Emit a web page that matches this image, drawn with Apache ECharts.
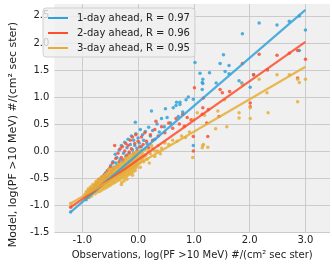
<!DOCTYPE html>
<html><head><meta charset="utf-8">
<script src="https://cdn.jsdelivr.net/npm/echarts@6/dist/echarts.min.js"></script>
<style>html,body{margin:0;padding:0;background:#fff}#c{width:332px;height:265px}</style>
</head><body><div id="c"></div><script>
const legendNames = ['1-day ahead, R = 0.97', '2-day ahead, R = 0.96', '3-day ahead, R = 0.95'];
const xTicks = [-1, 0, 1, 2, 3];
const fitX = [-1.21, 3.0];
const fit1 = [-1.13, 2.61];
const fit2 = [-1.04, 2.02];
const fit3 = [-0.97, 1.56];

const day1 = [
[-1.21,-1.13],[-0.93,-0.9],[-0.9,-0.8],[-0.88,-0.86],[-0.85,-0.74],[-0.83,-0.79],[-0.8,-0.69],[-0.78,-0.75],[-0.76,-0.63],[-0.74,-0.7],[-0.71,-0.58],[-0.69,-0.64],[-0.67,-0.52],[-0.65,-0.6],[-0.62,-0.46],[-0.6,-0.53],[-0.58,-0.4],[-0.56,-0.48],[-0.53,-0.34],[-0.51,-0.43],[-0.49,-0.27],[-0.47,-0.37],[-0.45,-0.2],[-0.43,-0.3],[-0.41,-0.06],[-0.4,-0.22],[-0.38,-0.12],[-0.36,-0.26],[-0.34,0.02],[-0.32,-0.15],[-0.3,0.1],[-0.28,-0.2],[-0.26,-0.04],[-0.24,0.16],[-0.22,-0.1],[-0.2,0.06],[-0.18,0.22],[-0.16,-0.04],[-0.14,0.12],[-0.12,0.28],[-0.1,0.02],[-0.08,0.2],[-0.06,0.1],[-0.04,0.32],[-0.02,0.05],[0.0,0.24],[0.02,0.15],[0.04,0.4],[0.06,0.08],[0.08,0.3],[0.1,0.2],[0.13,0.36],[0.16,0.14],[0.19,0.44],[0.22,0.28],[0.26,0.38],[0.3,0.22],[0.34,0.5],[0.38,0.35],[0.42,0.6],[0.47,0.45],[0.52,0.62],[0.58,0.52],[0.63,0.8],[0.69,0.9],[0.72,0.64],[0.75,0.86],[0.8,0.72],[0.86,0.95],[0.9,1.0],[0.99,0.96],[0.99,0.1],[-0.05,0.53],[0.24,0.74],[0.49,0.78],
[0.75,0.9],[0.68,0.84],[1.02,1.64],[1.11,1.44],[1.16,1.33],[1.16,1.25],[1.15,1.27],[1.15,1.14],[1.28,1.45],[1.4,1.26],[1.47,1.62],[1.53,1.78],[1.56,1.47],[1.63,1.58],[1.63,1.43],[1.81,1.3],[1.86,1.26],[1.87,2.17],[2.01,1.18],[2.07,1.41],[2.17,2.37],[2.49,2.33],[2.71,2.4],[2.89,2.5],[3.0,2.24],[2.89,1.86]
];
const day2 = [
[-1.21,-1.04],[-0.94,-0.86],[-0.91,-0.82],[-0.89,-0.76],[-0.86,-0.8],[-0.84,-0.7],[-0.81,-0.75],[-0.79,-0.64],[-0.77,-0.71],[-0.74,-0.58],[-0.72,-0.66],[-0.7,-0.52],[-0.67,-0.61],[-0.65,-0.48],[-0.63,-0.56],[-0.6,-0.43],[-0.58,-0.5],[-0.55,-0.36],[-0.53,-0.45],[-0.5,-0.3],[-0.48,-0.4],[-0.46,-0.22],[-0.44,-0.33],[-0.42,0.1],[-0.4,-0.14],[-0.38,-0.28],[-0.36,-0.04],[-0.34,-0.2],[-0.32,0.04],[-0.3,-0.12],[-0.28,0.08],[-0.26,-0.16],[-0.24,0.0],[-0.22,0.14],[-0.2,-0.08],[-0.18,0.1],[-0.16,-0.02],[-0.14,0.2],[-0.12,0.04],[-0.1,0.26],[-0.08,-0.04],[-0.06,0.14],[-0.04,0.3],[-0.02,0.0],[0.0,0.18],[0.03,0.08],[0.06,0.26],[0.09,0.12],[0.12,0.34],[0.15,0.18],[0.19,0.06],[0.22,0.3],[0.26,0.2],[0.3,0.4],[0.32,0.55],[0.36,0.28],[0.42,0.45],[0.48,0.34],[0.55,0.52],[0.62,0.42],[0.68,0.6],[0.74,0.5],[0.8,0.68],[0.83,0.46],[0.88,0.62],[0.95,0.58],[0.99,0.0],[0.99,0.27],[1.01,1.17],
[1.17,0.98],[1.15,0.68],[1.23,0.52],[1.25,0.27],[1.16,0.8],[1.26,0.77],[1.45,0.64],[1.47,1.14],[1.51,1.08],[1.64,1.1],[1.87,1.62],[2.01,0.89],[2.01,0.82],[2.07,1.41],[2.17,1.79],[2.32,1.5],[2.49,1.77],[2.71,1.81],[2.86,1.86],[3.0,1.7],[2.86,1.35]
];
const day3 = [
[-1.21,-0.97],[-0.95,-0.86],[-0.95,-0.8],[-0.93,-0.88],[-0.93,-0.76],[-0.91,-0.83],[-0.91,-0.74],[-0.89,-0.86],[-0.89,-0.77],[-0.89,-0.7],[-0.87,-0.82],[-0.87,-0.72],[-0.85,-0.8],[-0.85,-0.74],[-0.85,-0.66],[-0.83,-0.83],[-0.83,-0.7],[-0.81,-0.77],[-0.81,-0.68],[-0.81,-0.62],[-0.79,-0.74],[-0.79,-0.65],[-0.77,-0.79],[-0.77,-0.7],[-0.77,-0.6],[-0.75,-0.73],[-0.75,-0.64],[-0.75,-0.56],[-0.73,-0.76],[-0.73,-0.67],[-0.73,-0.58],[-0.71,-0.7],[-0.71,-0.61],[-0.71,-0.53],[-0.69,-0.75],[-0.69,-0.65],[-0.69,-0.56],[-0.67,-0.68],[-0.67,-0.6],[-0.67,-0.5],[-0.65,-0.72],[-0.65,-0.62],[-0.65,-0.53],[-0.63,-0.66],[-0.63,-0.57],[-0.63,-0.47],[-0.61,-0.7],[-0.61,-0.6],[-0.61,-0.5],[-0.59,-0.64],[-0.59,-0.54],[-0.59,-0.44],[-0.57,-0.68],[-0.57,-0.58],[-0.57,-0.48],[-0.55,-0.62],[-0.55,-0.53],[-0.55,-0.41],[-0.53,-0.65],[-0.53,-0.55],[-0.53,-0.45],[-0.53,-0.34],[-0.51,-0.6],[-0.51,-0.5],[-0.51,-0.4],[-0.49,-0.63],[-0.49,-0.53],[-0.49,-0.43],[-0.49,-0.34],[-0.47,-0.57],[-0.47,-0.47],[-0.47,-0.38],[-0.45,-0.6],[-0.45,-0.5],[-0.45,-0.42],[-0.45,-0.32],[-0.43,-0.55],[-0.43,-0.45],[-0.43,-0.36],[-0.41,-0.58],[-0.41,-0.48],[-0.41,-0.39],[-0.41,-0.3],[-0.39,-0.52],[-0.39,-0.43],[-0.39,-0.33],[-0.37,-0.55],[-0.37,-0.46],[-0.37,-0.37],[-0.37,-0.27],[-0.35,-0.5],[-0.35,-0.4],[-0.35,-0.31],[-0.33,-0.53],[-0.33,-0.43],[-0.33,-0.34],[-0.33,-0.25],[-0.31,-0.47],[-0.31,-0.38],[-0.31,-0.28],[-0.29,-0.58],[-0.29,-0.5],[-0.29,-0.41],[-0.29,-0.32],[-0.29,-0.22],[-0.27,-0.45],[-0.27,-0.35],[-0.27,-0.26],[-0.25,-0.49],[-0.25,-0.4],[-0.25,-0.3],[-0.25,-0.2],[-0.23,-0.44],[-0.23,-0.34],[-0.23,-0.24],[-0.23,-0.14],[-0.21,-0.47],[-0.21,-0.38],[-0.21,-0.28],[-0.21,-0.18],[-0.19,-0.41],[-0.19,-0.32],[-0.19,-0.22],[-0.19,-0.12],[-0.17,-0.44],[-0.17,-0.35],[-0.17,-0.25],[-0.17,-0.16],[-0.15,-0.39],[-0.15,-0.29],[-0.15,-0.19],[-0.15,-0.09],[-0.13,-0.42],[-0.13,-0.32],[-0.13,-0.23],[-0.13,-0.13],[-0.11,-0.36],[-0.11,-0.26],[-0.11,-0.17],[-0.11,-0.07],[-0.09,-0.39],[-0.09,-0.3],[-0.09,-0.2],[-0.09,-0.1],[-0.07,-0.33],[-0.07,-0.24],[-0.07,-0.14],[-0.07,-0.04],[-0.05,-0.36],[-0.05,-0.27],[-0.05,-0.18],[-0.05,-0.08],[-0.03,-0.3],[-0.03,-0.21],[-0.03,-0.11],[-0.03,-0.02],[-0.01,-0.25],[-0.01,-0.15],[-0.01,-0.06],[0.02,-0.22],[0.02,-0.12],[0.02,-0.02],[0.05,-0.18],[0.05,-0.08],[0.05,0.02],[0.08,-0.14],[0.08,-0.04],[0.11,-0.1],[0.11,0.02],[0.14,-0.08],[0.14,0.04],
[-0.3,-0.62],[-0.25,-0.55],[-0.2,-0.52],[-0.1,-0.45],[0.04,-0.3],[0.1,-0.2],[0.16,-0.15],[0.2,-0.22],[0.24,0.1],[0.3,-0.1],[0.35,0.0],[0.4,-0.05],
[0.18,0.0],[0.22,-0.05],[0.26,0.05],[0.3,0.0],[0.36,0.1],[0.42,0.05],[0.48,0.15],[0.55,0.12],[0.62,0.2],[0.7,0.18],[0.78,0.28],[0.85,0.25],[0.92,0.35],
[0.98,-0.12],[1.16,0.1],[1.25,0.07],[1.15,0.06],[1.17,0.12],[0.99,0.58],[1.06,0.71],[1.19,0.66],[1.39,0.41],[1.43,0.74],[1.55,0.95],[1.59,0.45],[1.81,0.71],[1.81,0.61],[2.01,0.8],[2.01,0.6],[1.87,1.23],[2.17,1.33],[2.31,1.08],[2.33,0.71],[2.49,1.41],[2.71,1.41],[2.86,1.33],[2.86,0.91],[2.89,1.27],[3.0,1.33]
];

const colors = ['#30a2da', '#fc4f30', '#e5ae38'];
const scatters = [day1, day2, day3];
const fits = [fit1, fit2, fit3];
const font = 'DejaVu Sans';

const series = [];
scatters.forEach((d, i) => {
  const s = {
    name: 'pts' + i, type: 'scatter', data: d, symbolSize: 3.5, z: 2 + i,
    itemStyle: { color: colors[i], opacity: 0.85 }, silent: true
  };
  if (i === 0) {
    s.markLine = {
      silent: true, symbol: ['none', 'none'], z: 1,
      label: { show: false },
      lineStyle: { color: '#cbcbcb', width: 1, type: 'solid', opacity: 1 },
      emphasis: { disabled: true },
      data: xTicks.map(v => ({ xAxis: v }))
    };
  }
  series.push(s);
});
fits.forEach((f, i) => {
  series.push({
    name: legendNames[i], type: 'line', symbol: 'none', showSymbol: false, z: 10 + i,
    data: fitX.map((x, k) => [x, f[k]]),
    lineStyle: { color: colors[i], width: 2.2, opacity: 0.85 },
    itemStyle: { color: colors[i] }
  });
});

const chart = echarts.init(document.getElementById('c'), null, { renderer: 'canvas' });
chart.setOption({
  animation: false,
  backgroundColor: '#ffffff',
  grid: { left: 40, right: 2, top: 4, bottom: 32, show: true, backgroundColor: '#f0f0f0', borderWidth: 0 },
  legend: {
    data: legendNames.map(n => ({ name: n, icon: 'rect' })), orient: 'vertical', left: 43, top: 8,
    padding: [5, 5, 4, 5], itemWidth: 20, itemHeight: 2, itemGap: 5,
    backgroundColor: 'rgba(240,240,240,0.8)', borderColor: '#d0d0d0', borderWidth: 1, borderRadius: 3,
    textStyle: { fontSize: 10, lineHeight: 10, color: '#222', fontFamily: font, padding: [0, 0, 0, 4] }
  },
  xAxis: {
    type: 'value', min: -1.5, max: 3.44, interval: 0.5,
    name: 'Observations, log(PF >10 MeV) #/(cm² sec ster)', nameLocation: 'middle', nameGap: 14,
    nameTextStyle: { fontSize: 10, color: '#222', fontFamily: font },
    axisLine: { show: false }, axisTick: { show: false },
    axisLabel: { showMaxLabel: false, showMinLabel: true, fontSize: 10, color: '#222', fontFamily: font, margin: 3,
      formatter: v => { const n = Number(v); return Number.isInteger(Math.round(n * 1e6) / 1e6) ? n.toFixed(1) : ''; } },
    splitLine: { show: false }
  },
  yAxis: {
    type: 'value', min: -1.5, max: 2.72, interval: 0.5,
    name: 'Model, log(PF >10 MeV) #/(cm² sec ster)', nameLocation: 'middle', nameGap: 27,
    nameTextStyle: { fontSize: 11, color: '#222', fontFamily: font, padding: [0, 33, 0, 0] },
    axisLine: { show: false }, axisTick: { show: false },
    axisLabel: { showMaxLabel: false, showMinLabel: true, fontSize: 10, color: '#222', fontFamily: font, margin: 5,
      formatter: v => (Math.round(Number(v) * 100) / 100).toFixed(1) },
    splitLine: { show: true, showMaxLine: false, lineStyle: { color: '#cbcbcb', width: 1 } }
  },
  series: series
});
</script></body></html>
